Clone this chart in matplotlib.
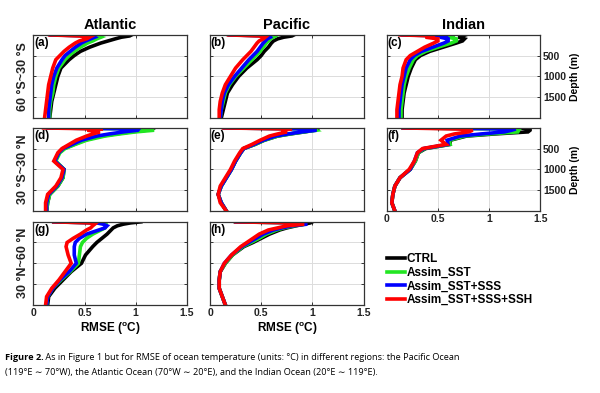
import matplotlib
matplotlib.use("Agg")
import matplotlib.pyplot as plt

plt.rcParams["font.family"] = ["Liberation Sans", "DejaVu Sans"]
plt.rcParams["mathtext.fontset"] = "custom"
plt.rcParams["mathtext.bf"] = "Liberation Sans:bold"
plt.rcParams["mathtext.rm"] = "Liberation Sans"

# depth levels (m)
depth = [5, 30, 60, 100, 150, 200, 300, 400, 500, 600, 800, 1000, 1200, 1400, 1600, 1800, 2000]

oceans = ["Atlantic", "Pacific", "Indian"]
regions = ["60 \u00b0S~30 \u00b0S", "30 \u00b0S~30 \u00b0N", "30 \u00b0N~60 \u00b0N"]
series = ["CTRL", "Assim_SST", "Assim_SST+SSS", "Assim_SST+SSS+SSH"]
panel_tags = ["(a)", "(b)", "(c)", "(d)", "(e)", "(f)", "(g)", "(h)"]
xticks = [0, 0.5, 1, 1.5]
yticks = [500, 1000, 1500]

# (a) Atlantic 60S-30S
a_ctrl = [0.96, 0.94, 0.86, 0.80, 0.73, 0.66, 0.55, 0.46, 0.40, 0.35, 0.27, 0.24, 0.22, 0.20, 0.18, 0.17, 0.16]
a_sst = [0.18, 0.62, 0.66, 0.62, 0.58, 0.53, 0.46, 0.40, 0.35, 0.31, 0.25, 0.22, 0.20, 0.19, 0.17, 0.16, 0.16]
a_sss = [0.17, 0.58, 0.60, 0.56, 0.51, 0.47, 0.41, 0.36, 0.31, 0.28, 0.23, 0.20, 0.18, 0.17, 0.16, 0.15, 0.15]
a_ssh = [0.16, 0.45, 0.55, 0.52, 0.45, 0.41, 0.35, 0.30, 0.26, 0.22, 0.19, 0.17, 0.15, 0.14, 0.13, 0.12, 0.11]

# (b) Pacific 60S-30S
b_ctrl = [0.82, 0.80, 0.72, 0.66, 0.62, 0.60, 0.57, 0.53, 0.50, 0.46, 0.36, 0.28, 0.22, 0.17, 0.15, 0.13, 0.11]
b_sst = [0.19, 0.64, 0.62, 0.59, 0.57, 0.55, 0.52, 0.49, 0.45, 0.41, 0.33, 0.25, 0.19, 0.15, 0.13, 0.11, 0.10]
b_sss = [0.19, 0.58, 0.59, 0.56, 0.54, 0.52, 0.49, 0.46, 0.42, 0.38, 0.31, 0.24, 0.18, 0.14, 0.12, 0.11, 0.10]
b_ssh = [0.18, 0.48, 0.54, 0.52, 0.48, 0.46, 0.43, 0.40, 0.36, 0.32, 0.25, 0.20, 0.15, 0.12, 0.10, 0.09, 0.09]

# (c) Indian 60S-30S
c_ctrl = [0.77, 0.74, 0.70, 0.76, 0.74, 0.68, 0.55, 0.42, 0.33, 0.28, 0.24, 0.21, 0.19, 0.17, 0.16, 0.15, 0.15]
c_sst = [0.16, 0.66, 0.60, 0.68, 0.68, 0.63, 0.50, 0.38, 0.30, 0.26, 0.22, 0.19, 0.17, 0.16, 0.15, 0.14, 0.14]
c_sss = [0.15, 0.60, 0.52, 0.60, 0.60, 0.56, 0.45, 0.34, 0.27, 0.23, 0.19, 0.17, 0.15, 0.14, 0.13, 0.12, 0.12]
c_ssh = [0.13, 0.47, 0.38, 0.50, 0.50, 0.46, 0.37, 0.30, 0.23, 0.19, 0.16, 0.15, 0.13, 0.12, 0.11, 0.10, 0.10]

# (d) Atlantic 30S-30N
d_ctrl = [1.18, 1.16, 1.10, 0.95, 0.80, 0.66, 0.50, 0.40, 0.30, 0.25, 0.21, 0.30, 0.29, 0.24, 0.16, 0.14, 0.13]
d_sst = [0.15, 1.10, 1.18, 1.00, 0.84, 0.70, 0.52, 0.41, 0.31, 0.26, 0.22, 0.30, 0.29, 0.24, 0.16, 0.14, 0.13]
d_sss = [0.14, 1.03, 1.02, 0.88, 0.74, 0.62, 0.47, 0.38, 0.29, 0.25, 0.21, 0.30, 0.28, 0.23, 0.15, 0.13, 0.13]
d_ssh = [0.10, 0.68, 0.53, 0.65, 0.58, 0.52, 0.42, 0.35, 0.28, 0.24, 0.20, 0.29, 0.27, 0.22, 0.14, 0.12, 0.12]

# (e) Pacific 30S-30N
e_ctrl = [1.06, 1.05, 1.02, 0.92, 0.78, 0.66, 0.53, 0.44, 0.33, 0.30, 0.25, 0.21, 0.16, 0.11, 0.08, 0.11, 0.16]
e_sst = [0.14, 1.02, 1.04, 0.92, 0.78, 0.66, 0.53, 0.44, 0.33, 0.30, 0.25, 0.21, 0.16, 0.11, 0.08, 0.11, 0.16]
e_sss = [0.14, 1.00, 1.04, 0.90, 0.76, 0.64, 0.52, 0.43, 0.33, 0.30, 0.25, 0.21, 0.16, 0.11, 0.08, 0.11, 0.16]
e_ssh = [0.13, 0.80, 0.70, 0.75, 0.66, 0.58, 0.49, 0.41, 0.32, 0.29, 0.24, 0.20, 0.15, 0.10, 0.08, 0.10, 0.16]

# (f) Indian 30S-30N
f_ctrl = [1.30, 1.40, 1.40, 1.38, 1.05, 0.78, 0.62, 0.62, 0.38, 0.31, 0.28, 0.23, 0.13, 0.08, 0.06, 0.05, 0.08]
f_sst = [0.16, 1.20, 1.29, 1.28, 1.00, 0.76, 0.61, 0.62, 0.37, 0.31, 0.28, 0.23, 0.13, 0.08, 0.06, 0.05, 0.08]
f_sss = [0.16, 1.26, 1.22, 1.15, 0.92, 0.72, 0.59, 0.60, 0.36, 0.30, 0.27, 0.23, 0.13, 0.08, 0.06, 0.05, 0.08]
f_ssh = [0.16, 0.70, 0.84, 0.80, 0.66, 0.58, 0.53, 0.58, 0.35, 0.30, 0.27, 0.22, 0.13, 0.08, 0.06, 0.05, 0.08]

# (g) Atlantic 30N-60N
g_ctrl = [1.05, 0.95, 0.88, 0.82, 0.78, 0.76, 0.72, 0.67, 0.62, 0.58, 0.51, 0.47, 0.37, 0.29, 0.21, 0.15, 0.14]
g_sst = [0.20, 0.66, 0.71, 0.71, 0.70, 0.66, 0.58, 0.52, 0.48, 0.46, 0.45, 0.44, 0.36, 0.27, 0.19, 0.14, 0.13]
g_sss = [0.20, 0.62, 0.68, 0.72, 0.70, 0.64, 0.52, 0.45, 0.41, 0.40, 0.40, 0.42, 0.35, 0.26, 0.19, 0.14, 0.13]
g_ssh = [0.20, 0.55, 0.60, 0.58, 0.56, 0.52, 0.46, 0.39, 0.33, 0.32, 0.34, 0.37, 0.31, 0.25, 0.18, 0.13, 0.12]

# (h) Pacific 30N-60N
h_ctrl = [1.00, 0.98, 0.92, 0.84, 0.75, 0.68, 0.58, 0.50, 0.42, 0.33, 0.22, 0.15, 0.10, 0.09, 0.09, 0.12, 0.15]
h_sst = [0.25, 0.88, 0.93, 0.82, 0.72, 0.65, 0.55, 0.48, 0.40, 0.32, 0.22, 0.15, 0.10, 0.09, 0.09, 0.12, 0.15]
h_sss = [0.25, 0.90, 0.95, 0.80, 0.70, 0.62, 0.52, 0.45, 0.38, 0.31, 0.21, 0.14, 0.10, 0.09, 0.09, 0.12, 0.15]
h_ssh = [0.25, 0.80, 0.92, 0.75, 0.66, 0.57, 0.48, 0.42, 0.36, 0.30, 0.21, 0.14, 0.10, 0.09, 0.09, 0.12, 0.15]

panels = [
    [a_ctrl, a_sst, a_sss, a_ssh], [b_ctrl, b_sst, b_sss, b_ssh], [c_ctrl, c_sst, c_sss, c_ssh],
    [d_ctrl, d_sst, d_sss, d_ssh], [e_ctrl, e_sst, e_sss, e_ssh], [f_ctrl, f_sst, f_sss, f_ssh],
    [g_ctrl, g_sst, g_sss, g_ssh], [h_ctrl, h_sst, h_sss, h_ssh],
]
colors = ["#000000", "#22e622", "#0000ff", "#ff0000"]

fig = plt.figure(figsize=(6, 3.93), dpi=100)

col_x = [0.0555, 0.35, 0.6445]
row_y = [0.6997, 0.463, 0.224]
w, h = 0.256, 0.212

lines = []
for k, data in enumerate(panels):
    row, col = divmod(k, 3)
    ax = fig.add_axes([col_x[col], row_y[row], w, h])
    for vals, c, name in zip(data, colors, series):
        ln, = ax.plot(vals, depth, color=c, lw=2.6, label=name, solid_joinstyle="miter")
        if k == 0:
            lines.append(ln)
    ax.set_xlim(0, 1.5)
    ax.set_ylim(2000, 0)
    ax.set_xticks(xticks)
    ax.set_yticks(yticks)
    ax.grid(True, color="#dcdcdc", lw=0.7)
    ax.set_axisbelow(True)
    for s in ax.spines.values():
        s.set_color("#333333")
        s.set_linewidth(0.9)
    ax.tick_params(direction="in", length=2.5, width=0.7, top=True, right=True,
                   labelsize=7.5, pad=2, colors="#333333", labelcolor="#222222")
    ax.set_xticklabels(["0", "0.5", "1", "1.5"], fontweight="bold")
    ax.set_yticklabels([str(t) for t in yticks], fontweight="bold")
    if row == 2 or (row == 1 and col == 2):
        ax.tick_params(labelbottom=True)
    else:
        ax.tick_params(labelbottom=False)
    if col == 2:
        ax.tick_params(labelleft=False, labelright=True)
        ax.yaxis.set_label_position("right")
        ax.set_ylabel("Depth (m)", fontsize=7.5, fontweight="bold", labelpad=3)
    else:
        ax.tick_params(labelleft=False)
    if col == 0:
        ax.set_ylabel(regions[row], fontsize=9, fontweight="bold", labelpad=3, color="#222222")
    if row == 0:
        ax.set_title(oceans[col], fontsize=10.5, fontweight="bold", pad=4)
    if row == 2:
        ax.set_xlabel(r"RMSE ($\mathbf{^o}$C)", fontsize=8.5, fontweight="bold", labelpad=2)
    ax.text(0.005, 0.975, panel_tags[k], transform=ax.transAxes, ha="left", va="top",
            fontsize=8.5, fontweight="bold")

fig.legend(lines, series, loc="upper left", bbox_to_anchor=(0.645, 0.355), frameon=False,
           handlelength=1.5, handletextpad=0.15, labelspacing=0.12,
           borderpad=0, borderaxespad=0, prop={"weight": "bold", "size": 8.5})

# caption
cap_font = ["Open Sans", "DejaVu Sans"]
t1 = fig.text(0.008, 0.084, "Figure 2.", fontsize=6.6, fontweight="bold", family=cap_font)
fig.canvas.draw()
bb = t1.get_window_extent()
x_next = bb.x1 / fig.bbox.width
fig.text(x_next, 0.084, " As in Figure 1 but for RMSE of ocean temperature (units: \u00b0C) in different regions: the Pacific Ocean",
         fontsize=6.6, family=cap_font)
fig.text(0.008, 0.046, "(119\u00b0E \u223c 70\u00b0W), the Atlantic Ocean (70\u00b0W \u223c 20\u00b0E), and the Indian Ocean (20\u00b0E \u223c 119\u00b0E).",
         fontsize=6.6, family=cap_font)

fig.savefig("out.png", dpi=100)
